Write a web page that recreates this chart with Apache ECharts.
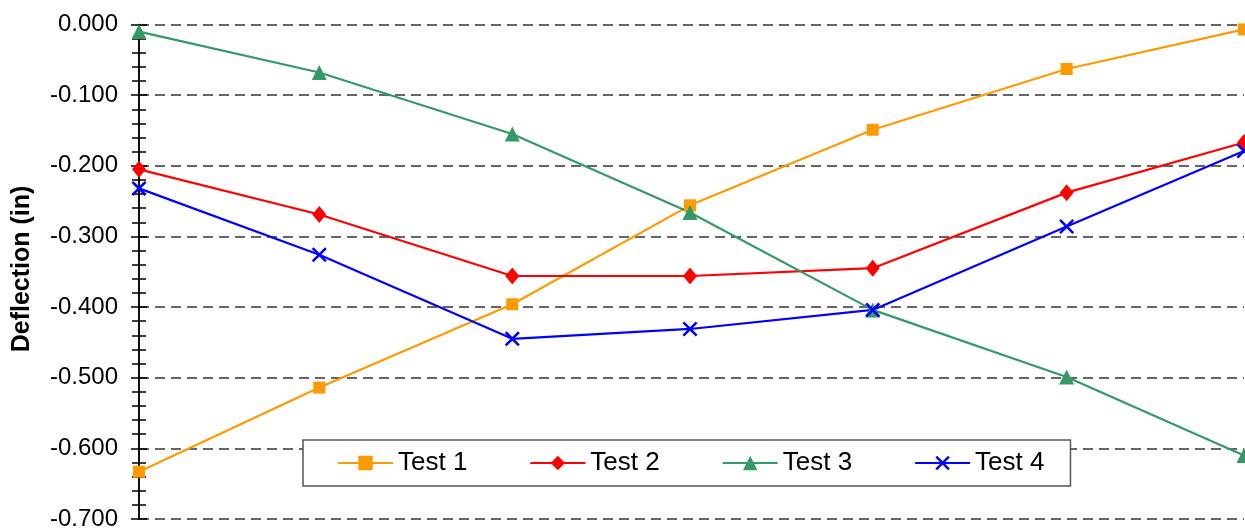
<!DOCTYPE html>
<html>
<head>
<meta charset="utf-8">
<script src="https://cdn.jsdelivr.net/npm/echarts@6/dist/echarts.min.js"></script>
<style>
html,body{margin:0;padding:0;background:#fff;}
#chart{width:1245px;height:531px;}
</style>
</head>
<body>
<div id="chart"></div>
<script>
const xPositions = [0, 0.979, 2.027, 2.992, 3.984, 5.037, 6];
const test1 = [-0.633, -0.514, -0.396, -0.256, -0.149, -0.063, -0.007];
const test2 = [-0.205, -0.269, -0.356, -0.356, -0.345, -0.238, -0.167];
const test3 = [-0.010, -0.068, -0.155, -0.266, -0.404, -0.499, -0.610];
const test4 = [-0.232, -0.326, -0.445, -0.431, -0.404, -0.286, -0.179];
const seriesNames = ['Test 1', 'Test 2', 'Test 3', 'Test 4'];
const yTitle = 'Deflection (in)';

const FONT = '"Liberation Sans", Arial, sans-serif';
const xSymbol = 'path://M0,1.2 L1.2,0 L5,3.8 L8.8,0 L10,1.2 L6.2,5 L10,8.8 L8.8,10 L5,6.2 L1.2,10 L0,8.8 L3.8,5 Z';

function pairs(ys) { return ys.map((y, i) => [xPositions[i], y]); }

const colors = ['#FF9900', '#FF0000', '#339966', '#0000FF'];
const symbols = ['rect', 'diamond', 'triangle', xSymbol];
const sizes = [12, [14, 17], 15, 15];
const datas = [test1, test2, test3, test4];

const chart = echarts.init(document.getElementById('chart'), null, {renderer: 'canvas'});
const option = {
  animation: false,
  backgroundColor: '#ffffff',
  grid: {left: 139, right: 1, top: 24.5, bottom: 8, containLabel: false},
  xAxis: {
    type: 'value', min: 0, max: 6, show: false
  },
  yAxis: [{
    type: 'value', min: -0.7, max: 0, interval: 0.1,
    axisLine: {show: true, lineStyle: {color: '#000', width: 1.5}},
    axisTick: {show: true, inside: false, length: 8, lineStyle: {color: '#000', width: 1.5}},
    minorTick: {show: true, splitNumber: 5, length: 7, lineStyle: {color: '#000', width: 1.5}},
    axisLabel: {
      color: '#000', fontSize: 24, fontFamily: FONT, margin: 21,
      formatter: v => v.toFixed(3)
    },
    splitLine: {show: true, lineStyle: {color: '#333', width: 1.5, type: [10, 6]}}
  }, {
    type: 'value', min: -0.7, max: 0, interval: 0.1, position: 'left',
    axisLine: {show: true, lineStyle: {color: '#000', width: 1.5}},
    axisTick: {show: true, inside: true, length: 8, lineStyle: {color: '#000', width: 1.5}},
    minorTick: {show: true, splitNumber: 5, length: 7, lineStyle: {color: '#000', width: 1.5}},
    axisLabel: {show: false},
    splitLine: {show: false}
  }],
  legend: {
    data: seriesNames,
    left: 303, top: 440,
    orient: 'horizontal',
    itemWidth: 55, itemHeight: 18, itemGap: 62,
    padding: [10, 26, 10, 34],
    backgroundColor: '#fff',
    borderColor: '#555', borderWidth: 1.5,
    textStyle: {color: '#000', fontSize: 26, fontFamily: FONT}
  },
  graphic: [{
    type: 'text', x: 22, y: 269, rotation: Math.PI / 2,
    style: {
      text: yTitle, fill: '#000', font: 'bold 25px ' + FONT,
      textAlign: 'center', textVerticalAlign: 'middle'
    }
  }],
  series: seriesNames.map((name, i) => ({
    name: name,
    type: 'line',
    yAxisIndex: 0,
    data: pairs(datas[i]),
    symbol: symbols[i],
    symbolSize: sizes[i],
    showAllSymbol: true,
    clip: false,
    lineStyle: {color: colors[i], width: 2.2},
    itemStyle: {color: colors[i]},
    emphasis: {disabled: true}
  }))
};
chart.setOption(option);
</script>
</body>
</html>
